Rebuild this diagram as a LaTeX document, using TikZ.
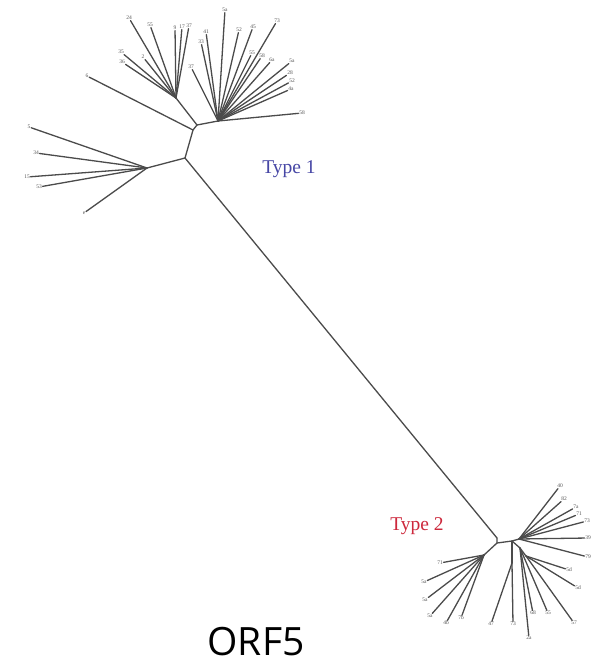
\documentclass[tikz,border=0pt]{standalone}
\usepackage{fontspec}
\setmainfont{Liberation Serif}
\newfontfamily\orffont{Open Sans}
\definecolor{branch}{RGB}{75,75,75}
\definecolor{typeblue}{RGB}{70,70,165}
\definecolor{typered}{RGB}{205,40,60}
\definecolor{leafgray}{RGB}{85,85,85}
\begin{document}
\begin{tikzpicture}[x=1pt,y=-1pt,
  br/.style={draw=branch,line width=1.3pt,line cap=round},
  leaf/.style={inner sep=0.6pt,font=\fontsize{5.5}{5.5}\selectfont,text=leafgray},
  typelab/.style={inner sep=0pt,font=\fontsize{19.5}{19.5}\selectfont}]
\useasboundingbox[fill=white] (0,0) rectangle (593,665);

% ---------- internal nodes ----------
\coordinate (R1) at (185,158);
\coordinate (R2) at (497,538);
\coordinate (N1) at (193,130);
\coordinate (N2) at (197,125);
\coordinate (LT) at (176,98);
\coordinate (RS) at (218,121);
\coordinate (LC) at (147,168);
\coordinate (B1) at (497,543);
\coordinate (B1a) at (484,555);
\coordinate (B2) at (512,541);
\coordinate (B3) at (519,539);
\coordinate (B4) at (512,563);
\coordinate (B6) at (520,548);
\coordinate (B5) at (526,556);

% ---------- backbone ----------
\draw[br] (R1) -- (R2);
\draw[br] (R1) -- (N1) -- (N2);
\draw[br] (N2) -- (LT);
\draw[br] (N2) -- (RS);
\draw[br] (R1) -- (LC);
\draw[br] (R2) -- (B1) -- (B1a);
\draw[br] (B1) -- (B2) -- (B3);
\draw[br] (B2) -- (B4);
\draw[br] (B2) -- (B6);
\draw[br] (B6) -- (B5);

% ---------- type 1: upper-left group ----------
\node[leaf] (t1) at (129,18) {24};
\node[leaf] (t2) at (150,25) {55};
\node[leaf] (t3) at (121,52) {35};
\node[leaf] (t4) at (122,62) {36};
\node[leaf] (t5) at (143,57) {2};
\node[leaf] (t6) at (175,28) {9};
\node[leaf] (t7) at (182,27) {17};
\node[leaf] (t8) at (189,26) {37};
\foreach \l in {t1,t2,t3,t4,t5,t6,t7,t8} \draw[br] (LT) -- (\l);
\node[leaf] (t0) at (87,76) {6};
\draw[br] (N1) -- (t0);

% ---------- type 1: upper-right group ----------
\node[leaf] (r1) at (225,10) {5a};
\node[leaf] (r2) at (206,32) {41};
\node[leaf] (r3) at (201,42) {33};
\node[leaf] (r4) at (191,67) {37};
\node[leaf] (r5) at (239,30) {52};
\node[leaf] (r6) at (253,27) {45};
\node[leaf] (r7) at (277,21) {73};
\node[leaf] (r8) at (252,53) {55};
\node[leaf] (r9) at (262,56) {58};
\node[leaf] (r10) at (272,60) {6a};
\node[leaf] (r11) at (292,61) {5a};
\node[leaf] (r12) at (290,73) {28};
\node[leaf] (r13) at (292,81) {52};
\node[leaf] (r14) at (291,89) {4a};
\node[leaf] (r15) at (302,113) {58};
\foreach \l in {r1,r2,r3,r4,r5,r6,r7,r8,r9,r10,r11,r12,r13,r14,r15} \draw[br] (RS) -- (\l);

% ---------- type 1: left group ----------
\node[leaf] (c1) at (29,127) {5};
\node[leaf] (c2) at (36,153) {34};
\node[leaf] (c3) at (27,177) {15};
\node[leaf] (c4) at (39,187) {53};
\node[leaf] (c5) at (84,213) {e};
\foreach \l in {c1,c2,c3,c4,c5} \draw[br] (LC) -- (\l);

% ---------- type 2: left group ----------
\node[leaf] (b1) at (440,563) {71};
\node[leaf] (b2) at (424,582) {5a};
\node[leaf] (b3) at (425,600) {5a};
\node[leaf] (b4) at (430,616) {5a};
\node[leaf] (b5) at (446,623) {4b};
\node[leaf] (b6) at (461,618) {7b};
\foreach \l in {b1,b2,b3,b4,b5,b6} \draw[br] (B1a) -- (\l);

% ---------- type 2: middle group ----------
\node[leaf] (m1) at (491,624) {47};
\node[leaf] (m2) at (513,624) {73};
\foreach \l in {m1,m2} \draw[br] (B4) -- (\l);
\node[leaf] (m3) at (529,638) {2a};
\node[leaf] (m4) at (533,613) {68};
\node[leaf] (m5) at (548,613) {55};
\foreach \l in {m3,m4,m5} \draw[br] (B6) -- (\l);

% ---------- type 2: right group ----------
\node[leaf] (s1) at (569,570) {5d};
\node[leaf] (s2) at (578,588) {5d};
\node[leaf] (s3) at (574,623) {57};
\foreach \l in {s1,s2,s3} \draw[br] (B5) -- (\l);

% ---------- type 2: upper-right group ----------
\node[leaf] (u1) at (560,486) {40};
\node[leaf] (u2) at (564,499) {82};
\node[leaf] (u3) at (576,507) {7a};
\node[leaf] (u4) at (579,514) {71};
\node[leaf] (u5) at (587,521) {73};
\node[leaf] (u6) at (588,538) {39};
\node[leaf] (u7) at (588,557) {79};
\foreach \l in {u1,u2,u3,u4,u5,u6,u7} \draw[br] (B3) -- (\l);

% ---------- labels ----------
\node[typelab,text=typeblue] (type1) at (289,169) {Type 1};
\node[typelab,text=typered] (type2) at (417,526) {Type 2};
\node[inner sep=0pt,font=\orffont\fontsize{39}{39}\selectfont] (orf) at (256,642) {ORF5};
\end{tikzpicture}
\end{document}
